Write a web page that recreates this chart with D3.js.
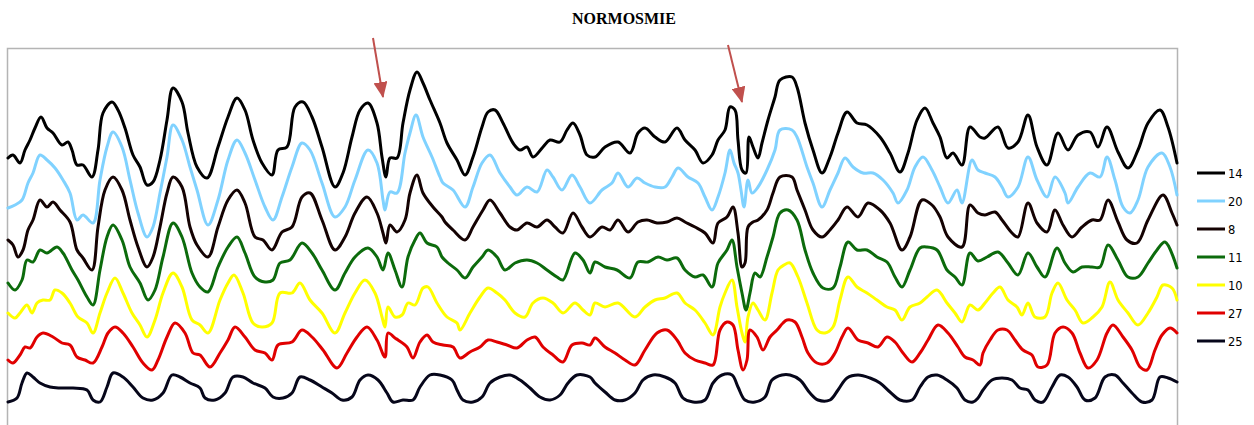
<!DOCTYPE html>
<html>
<head>
<meta charset="utf-8">
<script src="https://cdn.jsdelivr.net/npm/d3@7"></script>
<style>
  html, body { margin: 0; padding: 0; background: #fff; }
  svg { display: block; }
</style>
</head>
<body>
<svg id="chart" width="1254" height="425"></svg>
<script>
// Recorded traces: [time (samples), amplitude (a.u.)]
const seriesNames = ["14", "20", "8", "11", "10", "27", "25"];
const seriesColors = ["#000000", "#80d2ff", "#140202", "#0c6b0c", "#ffff00", "#e00000", "#06061a"];

const trace14 = [[0,247],[5,250],[12,242],[17,255],[22,265],[27,277],[33,288],[39,277],[45,272],[54,260],[60,263],[64,255],[69,240],[75,240],[84,228],[90,255],[95,292],[104,303],[110,295],[117,277],[125,250],[132,238],[139,220],[145,223],[152,245],[159,285],[165,317],[174,303],[180,272],[189,238],[199,227],[210,258],[220,288],[229,307],[237,295],[245,265],[254,242],[264,230],[270,255],[279,258],[287,298],[295,303],[304,288],[314,258],[327,218],[335,232],[344,268],[352,295],[360,302],[369,282],[374,248],[378,228],[382,247],[389,247],[395,282],[402,315],[409,333],[415,322],[422,305],[432,282],[439,262],[449,245],[457,230],[465,248],[474,278],[480,293],[487,295],[495,282],[505,262],[512,255],[519,258],[525,248],[535,258],[542,265],[552,263],[559,275],[565,282],[572,270],[579,250],[587,248],[597,258],[610,263],[622,252],[630,272],[637,277],[647,268],[657,263],[669,277],[677,265],[687,255],[695,242],[704,250],[710,265],[717,275],[722,298],[727,295],[730,265],[734,235],[738,232],[741,268],[745,258],[750,247],[754,262],[760,285],[767,308],[772,325],[784,328],[789,318],[797,282],[805,255],[814,232],[822,248],[830,272],[839,293],[849,282],[859,280],[872,268],[882,252],[892,233],[900,252],[909,285],[917,297],[925,282],[932,268],[939,247],[945,252],[954,240],[962,278],[972,268],[977,267],[990,278],[1000,257],[1010,263],[1020,290],[1029,258],[1039,240],[1050,272],[1060,255],[1070,270],[1082,273],[1090,258],[1099,278],[1110,253],[1120,237],[1130,255],[1140,282],[1152,295],[1160,278],[1169,242]];

const trace20 = [[0,197],[7,200],[14,205],[20,222],[25,232],[32,250],[39,245],[47,237],[55,225],[62,212],[69,185],[75,190],[85,182],[92,225],[99,258],[105,273],[114,258],[122,225],[130,192],[139,168],[145,178],[152,212],[159,248],[165,280],[174,265],[182,238],[189,215],[200,180],[210,205],[220,245],[229,265],[237,252],[247,225],[257,198],[265,185],[274,208],[284,238],[294,262],[302,255],[314,222],[327,188],[337,198],[347,225],[360,255],[369,242],[375,205],[377,195],[382,213],[389,212],[397,252],[402,272],[408,290],[415,268],[424,248],[432,228],[435,222],[445,215],[457,198],[465,218],[474,242],[482,250],[492,232],[502,218],[509,210],[519,218],[529,213],[539,235],[545,228],[554,215],[564,230],[572,218],[582,202],[594,215],[604,222],[610,232],[620,218],[629,227],[637,222],[647,218],[657,218],[664,228],[670,237],[680,228],[690,222],[697,208],[704,195],[710,208],[717,232],[722,255],[726,242],[730,232],[733,215],[736,198],[740,225],[744,212],[750,218],[759,235],[767,255],[772,275],[784,275],[789,268],[799,238],[805,222],[814,198],[822,215],[830,232],[837,247],[845,238],[855,232],[865,232],[875,225],[885,212],[890,202],[899,215],[907,238],[915,248],[924,235],[932,218],[940,202],[949,215],[954,202],[964,245],[970,235],[977,232],[987,228],[994,218],[1000,208],[1010,218],[1020,248],[1029,225],[1039,208],[1047,228],[1057,212],[1060,202],[1070,218],[1082,232],[1092,228],[1099,248],[1107,225],[1115,198],[1122,192],[1130,205],[1140,238],[1154,252],[1162,238],[1169,210]];

const trace8 = [[0,165],[5,160],[10,148],[15,155],[20,175],[25,185],[32,205],[39,198],[45,203],[52,195],[62,183],[69,155],[75,147],[84,135],[90,178],[97,215],[105,228],[114,215],[122,185],[130,158],[139,138],[145,148],[152,178],[159,212],[165,228],[174,218],[182,178],[189,160],[200,148],[210,178],[220,205],[229,215],[237,202],[247,168],[255,165],[264,155],[274,173],[284,178],[294,208],[302,212],[314,185],[327,155],[337,168],[347,192],[359,208],[369,192],[375,172],[378,162],[382,180],[389,173],[397,185],[402,212],[409,230],[415,212],[425,198],[434,188],[437,183],[445,175],[457,165],[465,178],[475,195],[482,205],[492,192],[502,178],[509,175],[519,182],[529,178],[539,185],[547,178],[555,172],[565,192],[574,178],[582,168],[594,178],[602,175],[610,185],[620,173],[630,183],[639,185],[649,182],[659,183],[669,187],[677,183],[687,178],[697,172],[705,162],[710,182],[719,188],[725,198],[730,172],[734,138],[737,142],[740,178],[745,183],[750,185],[759,195],[765,212],[772,228],[784,228],[789,215],[797,195],[805,175],[814,168],[822,175],[830,185],[839,198],[850,188],[860,202],[872,195],[882,182],[894,155],[902,168],[914,205],[924,200],[932,188],[940,168],[954,158],[962,200],[970,192],[977,190],[987,193],[994,185],[1004,172],[1010,168],[1020,202],[1029,182],[1039,173],[1047,195],[1055,180],[1064,168],[1074,178],[1084,185],[1092,185],[1100,205],[1110,183],[1119,165],[1129,162],[1140,185],[1155,210],[1164,192],[1169,180]];

const trace11 = [[0,122],[7,115],[14,125],[19,145],[25,143],[32,155],[39,152],[49,158],[55,152],[64,135],[70,125],[79,108],[85,100],[92,135],[99,168],[105,180],[114,165],[122,138],[132,122],[140,105],[147,115],[155,148],[165,182],[174,168],[184,132],[192,118],[200,113],[210,138],[220,158],[229,168],[237,152],[247,128],[257,123],[265,125],[272,142],[282,145],[294,162],[304,152],[314,135],[327,115],[337,132],[347,148],[360,157],[369,148],[375,135],[380,152],[387,135],[394,118],[400,148],[407,165],[412,172],[419,162],[429,158],[434,148],[440,142],[449,135],[457,127],[465,138],[474,148],[480,155],[489,148],[497,135],[507,142],[519,145],[529,142],[539,135],[549,128],[555,125],[567,152],[575,145],[582,132],[587,143],[597,138],[609,135],[622,127],[630,143],[640,143],[650,148],[659,145],[669,147],[677,135],[687,128],[695,130],[704,118],[710,142],[719,155],[724,165],[729,138],[734,112],[738,95],[742,112],[747,132],[752,128],[759,148],[765,168],[772,192],[780,195],[789,185],[797,155],[805,132],[815,117],[825,117],[832,138],[840,163],[849,155],[859,155],[869,148],[879,143],[887,128],[894,118],[902,135],[912,157],[919,158],[929,155],[939,135],[947,128],[954,120],[962,152],[970,144],[979,148],[990,153],[1000,142],[1010,130],[1020,152],[1029,138],[1037,128],[1049,157],[1057,142],[1065,133],[1074,138],[1084,138],[1092,138],[1100,160],[1110,145],[1120,128],[1130,128],[1140,142],[1149,155],[1157,163],[1169,137]];

const trace10 = [[0,92],[7,87],[12,92],[19,100],[24,92],[29,102],[35,105],[42,105],[47,115],[54,112],[62,102],[70,88],[79,82],[85,72],[92,92],[99,112],[107,127],[115,112],[124,92],[132,80],[139,68],[147,85],[155,112],[165,132],[174,118],[184,85],[192,80],[200,72],[212,105],[220,122],[226,130],[235,112],[245,82],[254,78],[264,82],[272,112],[284,112],[292,122],[302,105],[314,92],[327,72],[337,92],[347,112],[357,125],[367,112],[374,88],[377,78],[380,98],[387,88],[394,90],[400,102],[407,100],[415,117],[420,118],[429,102],[439,88],[449,82],[452,75],[462,92],[472,108],[480,117],[489,112],[497,105],[507,92],[517,88],[525,102],[535,107],[545,102],[555,92],[567,102],[575,95],[582,90],[587,102],[597,98],[610,102],[627,88],[637,98],[647,105],[657,107],[669,112],[677,102],[687,95],[697,82],[705,70],[712,98],[717,112],[724,125],[729,98],[734,72],[737,63],[740,88],[745,102],[750,95],[757,85],[764,112],[770,135],[776,140],[782,142],[790,128],[799,102],[809,75],[817,72],[825,78],[832,105],[840,128],[849,118],[859,112],[869,105],[879,98],[887,95],[894,85],[902,98],[912,102],[919,108],[929,115],[939,102],[947,92],[954,83],[962,100],[970,95],[977,102],[985,112],[992,118],[1000,105],[1009,98],[1014,90],[1020,102],[1027,88],[1037,88],[1044,112],[1050,122],[1059,105],[1067,95],[1075,82],[1085,88],[1094,98],[1102,123],[1110,105],[1120,92],[1130,80],[1140,92],[1149,108],[1155,120],[1164,117],[1169,105]];

const trace27 = [[0,45],[5,42],[12,50],[17,58],[22,57],[29,68],[35,72],[45,68],[54,62],[62,60],[69,48],[77,45],[85,42],[94,58],[100,72],[107,78],[115,72],[125,58],[135,42],[144,35],[150,45],[159,68],[167,82],[177,72],[185,52],[192,50],[202,38],[212,52],[220,65],[227,78],[237,68],[247,55],[257,52],[264,45],[270,60],[284,63],[294,75],[304,68],[315,55],[329,37],[339,52],[349,68],[359,78],[369,65],[377,48],[380,72],[387,67],[390,65],[399,58],[405,47],[412,63],[419,70],[425,63],[435,60],[445,58],[452,47],[462,53],[472,58],[480,65],[489,63],[499,60],[509,57],[519,65],[527,68],[535,58],[545,50],[555,43],[564,60],[574,62],[582,60],[587,67],[597,58],[607,52],[617,45],[627,40],[637,55],[649,72],[659,75],[669,65],[677,52],[687,45],[697,42],[705,40],[712,75],[719,83],[725,80],[730,55],[735,35],[739,45],[742,75],[749,68],[755,55],[762,68],[769,75],[775,82],[779,85],[787,83],[794,68],[800,52],[809,42],[819,42],[827,52],[834,68],[840,77],[850,65],[860,62],[870,58],[879,68],[887,63],[895,52],[904,43],[912,52],[920,65],[930,80],[940,72],[950,58],[957,48],[965,45],[972,40],[975,52],[982,65],[990,75],[999,75],[1007,65],[1015,55],[1024,50],[1030,38],[1039,40],[1047,72],[1055,78],[1064,72],[1072,52],[1080,37],[1089,45],[1099,72],[1105,80],[1115,68],[1124,55],[1132,38],[1139,35],[1147,55],[1154,70],[1162,77],[1169,72]];

const trace25 = [[0,3],[9,7],[14,22],[19,32],[25,28],[32,22],[42,18],[52,17],[65,17],[79,15],[85,5],[92,3],[99,18],[105,32],[115,28],[125,18],[135,7],[145,5],[155,12],[164,30],[172,28],[182,22],[192,17],[197,7],[207,5],[217,12],[225,28],[235,28],[245,22],[257,17],[265,8],[275,7],[284,12],[292,28],[302,25],[314,18],[324,12],[334,5],[344,8],[352,25],[360,30],[370,25],[379,12],[385,3],[395,5],[405,5],[412,18],[422,30],[432,30],[444,25],[449,15],[455,5],[465,3],[474,8],[482,22],[492,28],[502,30],[512,25],[522,17],[532,8],[542,5],[552,10],[560,22],[569,30],[582,28],[587,22],[597,13],[607,5],[617,5],[627,12],[635,25],[645,30],[657,28],[667,22],[675,7],[685,3],[697,5],[705,22],[714,30],[724,30],[730,18],[737,5],[747,3],[757,8],[764,25],[774,30],[782,30],[792,25],[802,12],[810,5],[822,5],[830,15],[839,27],[850,30],[862,27],[872,22],[882,13],[892,5],[904,5],[912,18],[920,28],[929,30],[939,25],[949,17],[957,5],[965,3],[970,7],[975,15],[984,25],[994,27],[1004,25],[1012,17],[1020,15],[1027,5],[1035,3],[1044,18],[1052,30],[1060,28],[1069,18],[1077,5],[1087,7],[1097,28],[1107,30],[1115,22],[1124,12],[1134,3],[1144,5],[1152,28],[1160,27],[1169,23]];

const seriesData = [trace14, trace20, trace8, trace11, trace10, trace27, trace25];

// Event markers (time, amplitude of arrow tip, amplitude of arrow tail)
const markerTimes = [375, 734];
const markerTipValues = [308, 303];
const markerTailValues = [367, 360];
const markerTailTimes = [365, 720];

const chartTitle = "NORMOSMIE";

const svg = d3.select("#chart");

const x = d3.scaleLinear().domain([0, 1169]).range([8, 1177]);
const y = d3.scaleLinear().domain([0, 360]).range([405, 45]);

// Plot frame (top, left and right edges)
svg.append("path")
  .attr("d", `M${x(0) - 0.5},432 V48.5 H${x(1169) + 0.5} V432`)
  .attr("fill", "none")
  .attr("stroke", "#b4b4b4")
  .attr("stroke-width", 1.5);

// Title
svg.append("text")
  .attr("x", 624)
  .attr("y", 24)
  .attr("text-anchor", "middle")
  .attr("font-family", "'Liberation Serif', 'Times New Roman', serif")
  .attr("font-weight", "bold")
  .attr("font-size", 16)
  .attr("fill", "#000")
  .text(chartTitle);

const line = d3.line()
  .x(d => x(d[0]))
  .y(d => y(d[1]))
  .curve(d3.curveCatmullRom.alpha(0.5));

svg.append("g")
  .selectAll("path")
  .data(seriesData)
  .join("path")
  .attr("d", d => line(d))
  .attr("fill", "none")
  .attr("stroke", (d, i) => seriesColors[i])
  .attr("stroke-width", 3)
  .attr("stroke-linejoin", "round")
  .attr("stroke-linecap", "round");

// Arrows pointing at the events
const defs = svg.append("defs");
defs.append("marker")
  .attr("id", "arrowhead")
  .attr("viewBox", "0 0 16 14")
  .attr("refX", 15)
  .attr("refY", 7)
  .attr("markerWidth", 16)
  .attr("markerHeight", 14)
  .attr("markerUnits", "userSpaceOnUse")
  .attr("orient", "auto")
  .append("path")
  .attr("d", "M0,0 L16,7 L0,14 Z")
  .attr("fill", "#c0504d");

svg.append("g")
  .selectAll("line")
  .data(markerTimes)
  .join("line")
  .attr("x1", (d, i) => x(markerTailTimes[i]))
  .attr("y1", (d, i) => y(markerTailValues[i]))
  .attr("x2", d => x(d))
  .attr("y2", (d, i) => y(markerTipValues[i]))
  .attr("stroke", "#c0504d")
  .attr("stroke-width", 2)
  .attr("marker-end", "url(#arrowhead)");

// Legend
const legend = svg.append("g").attr("transform", "translate(1197,173)");
const items = legend.selectAll("g")
  .data(seriesNames)
  .join("g")
  .attr("transform", (d, i) => `translate(0,${i * 28})`);
items.append("line")
  .attr("x1", 0).attr("x2", 28)
  .attr("y1", 0).attr("y2", 0)
  .attr("stroke", (d, i) => seriesColors[i])
  .attr("stroke-width", 3);
items.append("text")
  .attr("x", 31)
  .attr("y", 4.5)
  .attr("font-family", "'DejaVu Sans', Verdana, sans-serif")
  .attr("font-size", 11.5)
  .attr("fill", "#000")
  .text(d => d);
</script>
</body>
</html>
